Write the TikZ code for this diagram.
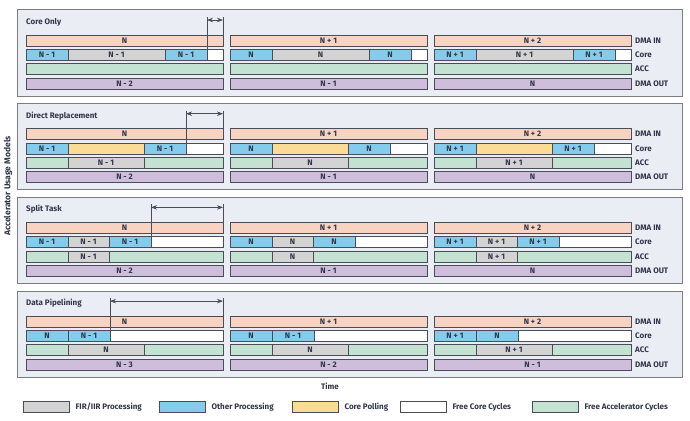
\documentclass[tikz,border=0pt]{standalone}
\usepackage{fontspec}
\setmainfont{Fira Sans}
\usetikzlibrary{positioning,arrows.meta}

\definecolor{inc}{HTML}{F8D3C2}
\definecolor{othc}{HTML}{84CBEC}
\definecolor{firc}{HTML}{D3D3D4}
\definecolor{pollc}{HTML}{FBDB96}
\definecolor{accc}{HTML}{C4E2D2}
\definecolor{outc}{HTML}{CEBDDB}
\definecolor{panelbg}{HTML}{EBEDF5}
\definecolor{panelline}{HTML}{7A7C84}
\definecolor{barline}{HTML}{4A4D57}
\definecolor{textc}{HTML}{33374A}

\tikzset{
  panel/.style={draw=panelline, line width=1pt, fill=panelbg},
  ptitle/.style={anchor=west, inner sep=0, text=textc, font=\bfseries\fontsize{8}{9}\selectfont},
  seg/.style={draw=barline, line width=0.8pt, minimum height=11pt, inner sep=0, outer sep=0,
    anchor=west, text=textc, font=\bfseries\fontsize{8}{9}\selectfont},
  rowlab/.style={anchor=west, inner sep=0, text=textc, font=\bfseries\fontsize{8}{9}\selectfont},
  dimline/.style={draw=barline, line width=0.6pt},
  dimarrow/.style={dimline, {Stealth[length=6pt,width=4.5pt]}-{Stealth[length=6pt,width=4.5pt]}},
  legbox/.style={draw=barline, line width=0.8pt, minimum width=46pt, minimum height=11pt, inner sep=0},
  legtext/.style={inner sep=0, text=textc, font=\bfseries\fontsize{8}{9}\selectfont},
}

\begin{document}
\begin{tikzpicture}[x=1pt, y=-1pt]
\useasboundingbox (0,0) rectangle (690,420);

% panels, titles and row labels
\foreach \k/\t in {1/Core Only, 2/Direct Replacement, 3/Split Task, 4/Data Pipelining}{
  \draw[panel] (17,{10+(\k-1)*93.7}) rectangle (682,{96+(\k-1)*93.7});
  \node[ptitle] (t\k) at (26,{22+(\k-1)*93.7}) {\t};
  \foreach \y/\r/\n in {40.5/DMA IN/in, 54.8/Core/core, 69.1/ACC/acc, 83.4/DMA OUT/out}
    \node[rowlab] (lab\k\n) at (635,{\y+(\k-1)*93.7}) {\r};
}

% Core Only
\foreach \x/\col/\la/\lb/\lc in {26/1/N/N - 1/N - 2, 230/2/N + 1/N/N - 1, 434/3/N + 2/N + 1/N}{
  \node[seg,fill=inc,minimum width=197pt] (p1in\col) at (\x,40.5) {\la};
  \node[seg,fill=othc,minimum width=42pt] (p1ca\col) at (\x,54.8) {\lb};
  \node[seg,fill=firc,minimum width=97pt] (p1cb\col) at (\x+42,54.8) {\lb};
  \node[seg,fill=othc,minimum width=42pt] (p1cc\col) at (\x+139,54.8) {\lb};
  \node[seg,fill=white,minimum width=16pt] (p1cd\col) at (\x+181,54.8) {};
  \node[seg,fill=accc,minimum width=197pt] (p1acc\col) at (\x,69.1) {};
  \node[seg,fill=outc,minimum width=197pt] (p1out\col) at (\x,83.4) {\lc};
}
\coordinate (p1al) at ([yshift=2pt]p1cd1.north west |- t1);
\coordinate (p1ar) at ([yshift=2pt]p1in1.north east |- t1);
\draw[dimline] ([yshift=3pt]p1al) -- (p1cd1.north west);
\draw[dimline] ([yshift=3pt]p1ar) -- (p1in1.north east);
\draw[dimarrow] (p1al) -- (p1ar);

% Direct Replacement
\begin{scope}[shift={(0,93.7)}]
\foreach \x/\col/\la/\lb/\lc in {26/1/N/N - 1/N - 2, 230/2/N + 1/N/N - 1, 434/3/N + 2/N + 1/N}{
  \node[seg,fill=inc,minimum width=197pt] (p2in\col) at (\x,40.5) {\la};
  \node[seg,fill=othc,minimum width=42pt] (p2ca\col) at (\x,54.8) {\lb};
  \node[seg,fill=pollc,minimum width=76pt] (p2cb\col) at (\x+42,54.8) {};
  \node[seg,fill=othc,minimum width=42pt] (p2cc\col) at (\x+118,54.8) {\lb};
  \node[seg,fill=white,minimum width=37pt] (p2cd\col) at (\x+160,54.8) {};
  \node[seg,fill=accc,minimum width=42pt] (p2aa\col) at (\x,69.1) {};
  \node[seg,fill=firc,minimum width=76pt] (p2ab\col) at (\x+42,69.1) {\lb};
  \node[seg,fill=accc,minimum width=79pt] (p2ac\col) at (\x+118,69.1) {};
  \node[seg,fill=outc,minimum width=197pt] (p2out\col) at (\x,83.4) {\lc};
}
\coordinate (p2al) at ([yshift=2pt]p2cd1.north west |- t2);
\coordinate (p2ar) at ([yshift=2pt]p2in1.north east |- t2);
\draw[dimline] ([yshift=3pt]p2al) -- (p2cd1.north west);
\draw[dimline] ([yshift=3pt]p2ar) -- (p2in1.north east);
\draw[dimarrow] (p2al) -- (p2ar);
\end{scope}

% Split Task
\begin{scope}[shift={(0,187.4)}]
\foreach \x/\col/\la/\lb/\lc in {26/1/N/N - 1/N - 2, 230/2/N + 1/N/N - 1, 434/3/N + 2/N + 1/N}{
  \node[seg,fill=inc,minimum width=197pt] (p3in\col) at (\x,40.5) {\la};
  \node[seg,fill=othc,minimum width=42pt] (p3ca\col) at (\x,54.8) {\lb};
  \node[seg,fill=firc,minimum width=41pt] (p3cb\col) at (\x+42,54.8) {\lb};
  \node[seg,fill=othc,minimum width=42pt] (p3cc\col) at (\x+83,54.8) {\lb};
  \node[seg,fill=white,minimum width=72pt] (p3cd\col) at (\x+125,54.8) {};
  \node[seg,fill=accc,minimum width=42pt] (p3aa\col) at (\x,69.1) {};
  \node[seg,fill=firc,minimum width=41pt] (p3ab\col) at (\x+42,69.1) {\lb};
  \node[seg,fill=accc,minimum width=114pt] (p3ac\col) at (\x+83,69.1) {};
  \node[seg,fill=outc,minimum width=197pt] (p3out\col) at (\x,83.4) {\lc};
}
\coordinate (p3al) at ([yshift=2pt]p3cd1.north west |- t3);
\coordinate (p3ar) at ([yshift=2pt]p3in1.north east |- t3);
\draw[dimline] ([yshift=3pt]p3al) -- (p3cd1.north west);
\draw[dimline] ([yshift=3pt]p3ar) -- (p3in1.north east);
\draw[dimarrow] (p3al) -- (p3ar);
\end{scope}

% Data Pipelining
\begin{scope}[shift={(0,281.1)}]
\foreach \x/\col/\la/\lb/\ld/\le/\lc in {26/1/N/N/N - 1/N/N - 3, 230/2/N + 1/N/N - 1/N/N - 2, 434/3/N + 2/N + 1/N/N + 1/N - 1}{
  \node[seg,fill=inc,minimum width=197pt] (p4in\col) at (\x,40.5) {\la};
  \node[seg,fill=othc,minimum width=42pt] (p4ca\col) at (\x,54.8) {\lb};
  \node[seg,fill=othc,minimum width=42pt] (p4cb\col) at (\x+42,54.8) {\ld};
  \node[seg,fill=white,minimum width=113pt] (p4cd\col) at (\x+84,54.8) {};
  \node[seg,fill=accc,minimum width=42pt] (p4aa\col) at (\x,69.1) {};
  \node[seg,fill=firc,minimum width=76pt] (p4ab\col) at (\x+42,69.1) {\le};
  \node[seg,fill=accc,minimum width=79pt] (p4ac\col) at (\x+118,69.1) {};
  \node[seg,fill=outc,minimum width=197pt] (p4out\col) at (\x,83.4) {\lc};
}
\coordinate (p4al) at ([yshift=2pt]p4cd1.north west |- t4);
\coordinate (p4ar) at ([yshift=2pt]p4in1.north east |- t4);
\draw[dimline] ([yshift=3pt]p4al) -- (p4cd1.north west);
\draw[dimline] ([yshift=3pt]p4ar) -- (p4in1.north east);
\draw[dimarrow] (p4al) -- (p4ar);
\end{scope}

% axis labels
\node[legtext, rotate=90, font=\bfseries\fontsize{8.5}{9}\selectfont] (ylab) at (8,186) {Accelerator Usage Models};
\node[legtext] (time) at (330,386) {Time};

% legend
\node[legbox, fill=firc] (lg1) at (46,407) {};
\node[legtext, right=6pt of lg1] (lt1) {FIR/IIR Processing};
\node[legbox, fill=othc] (lg2) at (182,407) {};
\node[legtext, right=6pt of lg2] (lt2) {Other Processing};
\node[legbox, fill=pollc] (lg3) at (315,407) {};
\node[legtext, right=6pt of lg3] (lt3) {Core Polling};
\node[legbox, fill=white] (lg4) at (423,407) {};
\node[legtext, right=6pt of lg4] (lt4) {Free Core Cycles};
\node[legbox, fill=accc] (lg5) at (555,407) {};
\node[legtext, right=6pt of lg5] (lt5) {Free Accelerator Cycles};
\end{tikzpicture}
\end{document}
